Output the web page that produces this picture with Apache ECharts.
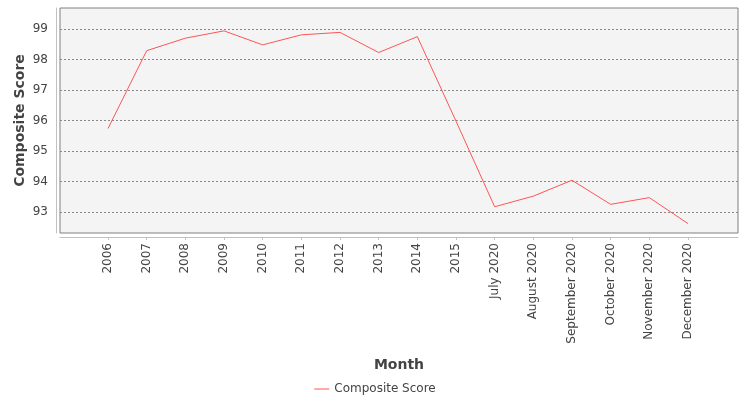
<!DOCTYPE html>
<html><head><meta charset="utf-8">
<script src="https://cdn.jsdelivr.net/npm/echarts@6/dist/echarts.min.js"></script>
<style>html,body{margin:0;padding:0;background:#fff}#c{width:750px;height:400px}</style>
</head><body><div id="c"></div>
<script>
var categories = ["2006","2007","2008","2009","2010","2011","2012","2013","2014","2015","July 2020","August 2020","September 2020","October 2020","November 2020","December 2020"];
var compositeScore = [95.74, 98.29, 98.70, 98.94, 98.48, 98.81, 98.89, 98.23, 98.75, 95.98, 93.17, 93.52, 94.04, 93.25, 93.47, 92.62];
var seriesName = "Composite Score";
var yMin = 92.31, yMax = 99.69;

var font = "DejaVu Sans";
var chart = echarts.init(document.getElementById('c'));
chart.setOption({
  animation: false,
  textStyle: {fontFamily: font},
  grid: [
    {left: 60, right: 12, top: 8, bottom: 167, show: true, backgroundColor: '#f4f4f4', borderColor: '#808080', borderWidth: 1},
    {left: 88.7, right: 42.7, top: 8, bottom: 167, show: false}
  ],
  xAxis: [
    {gridIndex: 0, type: 'category', data: [''], offset: 4,
     axisLine: {show: true, lineStyle: {color: '#c0c0c0'}}, axisTick: {show: false}, axisLabel: {show: false}, splitLine: {show: false},
     name: 'Month', nameLocation: 'middle', nameGap: 121, nameMoveOverlap: false,
     nameTextStyle: {fontFamily: font, fontSize: 14, fontWeight: 'bold', color: '#444'}},
    {gridIndex: 1, type: 'category', data: categories, boundaryGap: true, offset: 4,
     axisLine: {show: false},
     axisTick: {show: true, alignWithLabel: true, length: 3, lineStyle: {color: '#c0c0c0'}},
     axisLabel: {rotate: 90, margin: 6, interval: 0, fontFamily: font, fontSize: 12, color: '#444'},
     splitLine: {show: false}}
  ],
  yAxis: [
    {gridIndex: 0, type: 'value', min: yMin, max: yMax, offset: 4,
     axisLine: {show: true, lineStyle: {color: '#c0c0c0'}}, axisTick: {show: false},
     axisLabel: {margin: 8, showMinLabel: false, showMaxLabel: false, fontFamily: font, fontSize: 12, color: '#444'},
     splitLine: {show: true, showMinLine: false, showMaxLine: false, lineStyle: {color: '#888', type: [2, 2], width: 1}},
     name: 'Composite Score', nameLocation: 'middle', nameGap: 29, nameMoveOverlap: false,
     nameTextStyle: {fontFamily: font, fontSize: 14, fontWeight: 'bold', color: '#444'}},
    {gridIndex: 1, type: 'value', min: yMin, max: yMax, show: false}
  ],
  legend: {
    data: [{name: seriesName, icon: 'rect'}], left: 'center', top: 377, itemWidth: 15, itemHeight: 1, itemGap: 10,
    textStyle: {fontFamily: font, fontSize: 12, color: '#444', lineHeight: 14}
  },
  series: [{
    name: seriesName, type: 'line', xAxisIndex: 1, yAxisIndex: 1,
    data: compositeScore, symbol: 'none', lineStyle: {color: '#ff5555', width: 1}, itemStyle: {color: '#ff5555'}
  }]
});
</script></body></html>
